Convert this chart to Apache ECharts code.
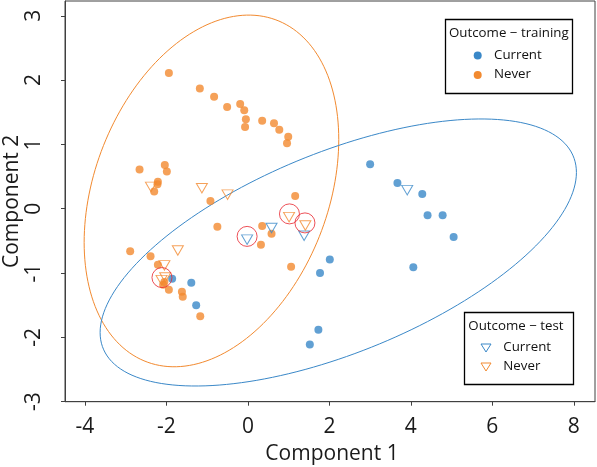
<!DOCTYPE html>
<html>
<head>
<meta charset="utf-8">
<script src="https://cdn.jsdelivr.net/npm/echarts@6/dist/echarts.min.js"></script>
<style>html,body{margin:0;padding:0;background:#fff}#c{width:597px;height:467px}</style>
</head>
<body>
<div id="c"></div>
<script>
// ---- data ----
const xTicks = [-4, -2, 0, 2, 4, 6, 8];
const yTicks = [-3, -2, -1, 0, 1, 2, 3];

const trainCurrent = [
  [3.00,0.69],[3.67,0.40],[4.28,0.23],[4.41,-0.10],[4.78,-0.10],[5.05,-0.44],[4.06,-0.91],
  [2.01,-0.79],[1.77,-1.00],[1.73,-1.88],[1.52,-2.11],[-1.86,-1.09],[-1.39,-1.15],[-1.27,-1.50]
];
const trainNever = [
  [-1.94,2.11],[-1.18,1.87],[-0.83,1.74],[-0.51,1.58],[-0.19,1.63],[-0.09,1.53],[-0.05,1.39],
  [-0.07,1.27],[0.35,1.37],[0.64,1.33],[0.77,1.23],[0.99,1.12],[0.96,1.02],
  [-2.66,0.61],[-2.04,0.68],[-1.99,0.58],[-2.21,0.42],[-2.22,0.38],[-2.30,0.27],
  [-0.92,0.12],[-0.75,-0.28],[1.16,0.20],[0.35,-0.27],[0.58,-0.39],[0.32,-0.56],[1.06,-0.90],
  [-2.89,-0.66],[-2.39,-0.74],[-2.21,-0.87],[-2.05,-1.14],[-2.08,-1.18],[-1.94,-1.26],
  [-1.62,-1.29],[-1.60,-1.37],[-1.17,-1.67]
];
const testCurrent = [[3.91,0.29],[0.58,-0.30],[-0.02,-0.48],[1.38,-0.42]];
const testNever = [
  [-2.38,0.34],[-1.13,0.32],[-0.50,0.22],[1.01,-0.13],[1.41,-0.26],
  [-1.72,-0.65],[-2.05,-0.88],[-2.12,-1.11],[-2.03,-1.07]
];
const highlighted = [[-0.02,-0.43],[1.02,-0.08],[1.40,-0.22],[-2.11,-1.07]];

// confidence ellipses: centre and two conjugate semi-axis vectors (data units)
const ellipseCenter = [[-0.895,0.277],[2.218,-0.680]];
const ellipseAxisA  = [[3.125,0.801],[5.846,1.244]];
const ellipseAxisB  = [[0,-2.614],[0,-1.662]];
const ellipseColor  = ['#F28A30','#3A88C8'];

// ---- chart ----
const BLUE = '#3A88C8', ORANGE = '#F28A30', RED = '#E8262E';
const FONT = 'Open Sans';
const chart = echarts.init(document.getElementById('c'), null, {renderer:'canvas'});

const triSym = 'triangle';
const option = {
  animation:false,
  backgroundColor:'#fff',
  grid:{left:65, right:2, top:1, bottom:65.3, show:true, borderColor:'#404040', borderWidth:1,
        backgroundColor:'transparent', containLabel:false, outerBoundsMode:'none'},
  xAxis:{
    type:'value', min:-4.49, max:8.52,
    name:'Component 1', nameLocation:'middle', nameGap:42,
    nameTextStyle:{fontFamily:FONT, fontSize:21, color:'#1a1a1a', padding:[0,0,0,4]},
    axisLine:{show:true, onZero:false, lineStyle:{color:'#404040', width:1}},
    axisTick:{show:true, inside:false, length:4, lineStyle:{color:'#404040'}, customValues:xTicks},
    axisLabel:{fontFamily:FONT, fontSize:21, color:'#1a1a1a', margin:15, customValues:xTicks},
    splitLine:{show:false}
  },
  yAxis:{
    type:'value', min:-3.0, max:3.23,
    name:'Component 2', nameLocation:'middle', nameGap:42, nameMoveOverlap:false,
    nameTextStyle:{fontFamily:FONT, fontSize:21, color:'#1a1a1a'},
    axisLine:{show:true, onZero:false, lineStyle:{color:'#404040', width:1}},
    axisTick:{show:true, inside:false, length:4, lineStyle:{color:'#404040'}, customValues:yTicks},
    axisLabel:{fontFamily:FONT, fontSize:21, color:'#1a1a1a', margin:20, rotate:90, customValues:yTicks},
    splitLine:{show:false}
  },
  series:[
    {
      type:'custom', name:'ellipses', silent:true, z:1,
      data: ellipseCenter.map((c,i)=>[c[0],c[1],i]),
      renderItem:function(params, api){
        const i = api.value(2);
        const c = ellipseCenter[i], a = ellipseAxisA[i], b = ellipseAxisB[i];
        const pts = [];
        for (let k=0;k<=180;k++){
          const t = k/180*2*Math.PI;
          pts.push(api.coord([c[0]+a[0]*Math.cos(t)+b[0]*Math.sin(t), c[1]+a[1]*Math.cos(t)+b[1]*Math.sin(t)]));
        }
        return {type:'polyline', shape:{points:pts}, style:{stroke:ellipseColor[i], lineWidth:1, fill:null}};
      },
      clip:true
    },
    {type:'scatter', name:'Current', data:trainCurrent, symbol:'circle', symbolSize:8,
     itemStyle:{color:BLUE}, z:3},
    {type:'scatter', name:'Never', data:trainNever, symbol:'circle', symbolSize:8,
     itemStyle:{color:ORANGE}, z:3},
    {type:'scatter', name:'Current test', data:testCurrent, symbol:triSym, symbolRotate:180, symbolSize:[11,9.5],
     itemStyle:{color:'transparent', borderColor:BLUE, borderWidth:1}, z:4},
    {type:'scatter', name:'Never test', data:testNever, symbol:triSym, symbolRotate:180, symbolSize:[11,9.5],
     itemStyle:{color:'transparent', borderColor:ORANGE, borderWidth:1}, z:4},
    {type:'scatter', name:'highlight', data:highlighted, symbol:'circle', symbolSize:20,
     itemStyle:{color:'transparent', borderColor:RED, borderWidth:1}, z:5}
  ],
  graphic:[
    // training legend
    {type:'rect', shape:{x:445.5, y:19.5, width:127, height:74}, style:{fill:'#fff', stroke:'#000', lineWidth:1.3}, z:10},
    {type:'text', x:449, y:33, style:{text:'Outcome \u2212 training', font:'13.3px "Open Sans"', fill:'#111', textVerticalAlign:'middle'}, z:11},
    {type:'circle', shape:{cx:477.7, cy:55.5, r:4}, style:{fill:BLUE}, z:11},
    {type:'text', x:494, y:55, style:{text:'Current', font:'13.3px "Open Sans"', fill:'#111', textVerticalAlign:'middle'}, z:11},
    {type:'circle', shape:{cx:477.7, cy:75, r:4}, style:{fill:ORANGE}, z:11},
    {type:'text', x:494, y:74.5, style:{text:'Never', font:'13.3px "Open Sans"', fill:'#111', textVerticalAlign:'middle'}, z:11},
    // test legend
    {type:'rect', shape:{x:464.5, y:312.5, width:109, height:72}, style:{fill:'#fff', stroke:'#000', lineWidth:1.3}, z:10},
    {type:'text', x:468.3, y:326, style:{text:'Outcome \u2212 test', font:'13.3px "Open Sans"', fill:'#111', textVerticalAlign:'middle'}, z:11},
    {type:'polygon', shape:{points:[[481,344],[491,344],[486,352]]}, style:{fill:null, stroke:BLUE, lineWidth:1}, z:11},
    {type:'text', x:503.3, y:347.5, style:{text:'Current', font:'13.3px "Open Sans"', fill:'#111', textVerticalAlign:'middle'}, z:11},
    {type:'polygon', shape:{points:[[481,363],[491,363],[486,371]]}, style:{fill:null, stroke:ORANGE, lineWidth:1}, z:11},
    {type:'text', x:503.3, y:366.7, style:{text:'Never', font:'13.3px "Open Sans"', fill:'#111', textVerticalAlign:'middle'}, z:11}
  ]
};
chart.setOption(option);
</script>
</body>
</html>
